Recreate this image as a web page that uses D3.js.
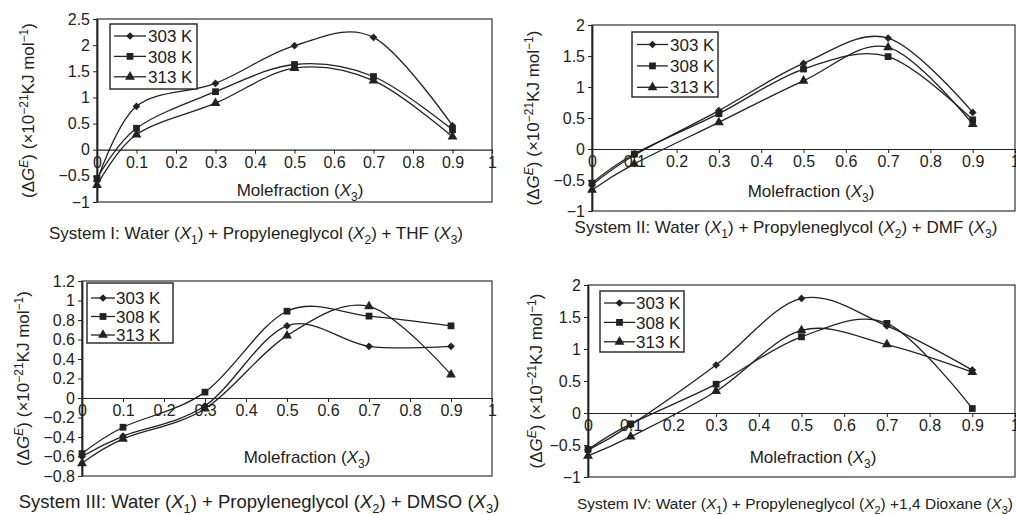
<!DOCTYPE html>
<html>
<head>
<meta charset="utf-8">
<script src="https://cdn.jsdelivr.net/npm/d3@7"></script>
<style>
  body { margin: 0; background: #fff; }
  svg { font-family: "Liberation Sans", Arial, Helvetica, sans-serif; }
</style>
</head>
<body>
<svg id="chart" width="1016" height="515"></svg>
<script>
/* Excess Gibbs energy vs mole fraction of the third component,
   four ternary systems, three temperatures each. */

const molefraction = [0, 0.1, 0.3, 0.5, 0.7, 0.9];
const temperatures = ['303 K', '308 K', '313 K'];
const xTicks = [0, 0.1, 0.2, 0.3, 0.4, 0.5, 0.6, 0.7, 0.8, 0.9, 1];

// System I: THF
const thf303 = [-0.60, 0.83, 1.27, 1.99, 2.15, 0.46];
const thf308 = [-0.55, 0.41, 1.11, 1.63, 1.40, 0.38];
const thf313 = [-0.68, 0.29, 0.89, 1.56, 1.32, 0.25];
const thfTicks = [-1, -0.5, 0, 0.5, 1, 1.5, 2, 2.5];

// System II: DMF
const dmf303 = [-0.58, -0.10, 0.62, 1.38, 1.79, 0.59];
const dmf308 = [-0.55, -0.08, 0.57, 1.29, 1.49, 0.47];
const dmf313 = [-0.66, -0.24, 0.43, 1.10, 1.64, 0.40];
const dmfTicks = [-1, -0.5, 0, 0.5, 1, 1.5, 2];

// System III: DMSO
const dmso303 = [-0.60, -0.39, -0.08, 0.74, 0.53, 0.53];
const dmso308 = [-0.57, -0.30, 0.06, 0.89, 0.84, 0.74];
const dmso313 = [-0.67, -0.42, -0.11, 0.64, 0.94, 0.24];
const dmsoTicks = [-0.8, -0.6, -0.4, -0.2, 0, 0.2, 0.4, 0.6, 0.8, 1, 1.2];

// System IV: 1,4 Dioxane
const diox303 = [-0.58, -0.19, 0.75, 1.79, 1.36, 0.67];
const diox308 = [-0.57, -0.17, 0.45, 1.19, 1.40, 0.07];
const diox313 = [-0.67, -0.37, 0.34, 1.29, 1.07, 0.64];
const dioxTicks = [-1, -0.5, 0, 0.5, 1, 1.5, 2];

const captions = [
    'System I: Water (X_1) + Propyleneglycol (X_2) + THF (X_3)',
    'System II: Water (X_1) + Propyleneglycol (X_2) + DMF (X_3)',
    'System III: Water (X_1) + Propyleneglycol (X_2) + DMSO (X_3)',
    'System IV: Water (X_1) + Propyleneglycol (X_2) +1,4 Dioxane (X_3)'
];

/* Layout of each panel on the page (pixels). */
const panels = [
    {series: [thf303, thf308, thf313], yTicks: thfTicks, caption: captions[0],
     left: 97, right: 492, top: 19, bottom: 202,
     legend: {x: 110, y: 24, w: 87, h: 65, row0: 36, step: 20.4, line0: 114, line1: 146, text: 148},
     xTitle: [300, 196], yTitleX: 28, captionPos: [256, 239], captionSize: 17},
    {series: [dmf303, dmf308, dmf313], yTicks: dmfTicks, caption: captions[1],
     left: 592, right: 1015, top: 25, bottom: 211,
     legend: {x: 632, y: 32, w: 86, h: 65, row0: 44.5, step: 21.4, line0: 637, line1: 668, text: 670},
     xTitle: [811, 197], yTitleX: 533, captionPos: [786, 233], captionSize: 17},
    {series: [dmso303, dmso308, dmso313], yTicks: dmsoTicks, caption: captions[2],
     left: 82, right: 492, top: 281, bottom: 476,
     legend: {x: 87, y: 283, w: 86, h: 60, row0: 298, step: 18.5, line0: 91, line1: 115, text: 116},
     xTitle: [307, 463], yTitleX: 23, captionPos: [259, 508], captionSize: 18.5},
    {series: [diox303, diox308, diox313], yTicks: dioxTicks, caption: captions[3],
     left: 588, right: 1015, top: 285, bottom: 477,
     legend: {x: 600, y: 291, w: 84, h: 61, row0: 303, step: 19.4, line0: 604, line1: 635, text: 636},
     xTitle: [813, 463], yTitleX: 536, captionPos: [795, 509], captionSize: 15.5}
];

const INK = '#222';
const FONT = 17;       // titles and legend
const TICK_FONT = 16;
const SUB_FONT = 12;
const tickFormat = d3.format('~g');

/* diamond = rotated square, then square, then triangle */
const markers = [
    {type: d3.symbolSquare, size: 30, rotate: 45},
    {type: d3.symbolSquare, size: 46, rotate: 0},
    {type: d3.symbolTriangle, size: 42, rotate: 0}
];

function drawMarker(g, i, cx, cy) {
    g.append('path')
        .attr('d', d3.symbol().type(markers[i].type).size(markers[i].size)())
        .attr('transform', `translate(${cx},${cy}) rotate(${markers[i].rotate})`)
        .attr('fill', INK);
}

/* text with X_n written as italic X and subscript n */
function writeSubscripted(text, str, size) {
    let parts = str.split(/X_(\d)/);
    let shift = 0;
    let sub = Math.round(size * 0.7);
    parts.forEach((part, i) => {
        if (i % 2 == 0) {
            if (part === '') return;
            text.append('tspan').attr('dy', shift).text(part);
            shift = 0;
        } else {
            text.append('tspan').attr('font-style', 'italic').attr('dy', shift).text('X');
            text.append('tspan').attr('dy', 5).attr('font-size', sub).text(part);
            shift = -5;
        }
    });
}

function drawPanel(svg, p) {
    let x = d3.scaleLinear().domain([0, 1]).range([p.left, p.right]);
    let y = d3.scaleLinear().domain(d3.extent(p.yTicks)).range([p.bottom, p.top]);
    let g = svg.append('g');

    g.append('rect')
        .attr('x', p.left).attr('y', p.top)
        .attr('width', p.right - p.left).attr('height', p.bottom - p.top)
        .attr('fill', 'none').attr('stroke', '#333').attr('stroke-width', 1.2);

    let yAxis = g.append('g')
        .attr('transform', `translate(${p.left},0)`)
        .call(d3.axisLeft(y).tickValues(p.yTicks).tickSize(4).tickSizeOuter(0).tickFormat(tickFormat));
    yAxis.select('.domain').attr('stroke', INK).attr('stroke-width', 1.8);

    let xAxis = g.append('g')
        .attr('transform', `translate(0,${y(0)})`)
        .call(d3.axisBottom(x).tickValues(xTicks).tickSize(4).tickSizeOuter(0).tickFormat(tickFormat));
    xAxis.select('.domain').attr('stroke', INK).attr('stroke-width', 1.2);

    [yAxis, xAxis].forEach(a => {
        a.attr('font-size', TICK_FONT).attr('font-family', null);
        a.selectAll('.tick line').attr('stroke', INK);
        a.selectAll('.tick text').attr('fill', INK);
    });

    // curves and markers
    let line = d3.line()
        .x((d, i) => x(molefraction[i]))
        .y(d => y(d))
        .curve(d3.curveCardinal.tension(0));
    p.series.forEach((values, s) => {
        g.append('path')
            .attr('d', line(values))
            .attr('fill', 'none')
            .attr('stroke', INK)
            .attr('stroke-width', 1.3);
        values.forEach((v, i) => drawMarker(g, s, x(molefraction[i]), y(v)));
    });

    // legend
    let L = p.legend;
    g.append('rect')
        .attr('x', L.x).attr('y', L.y).attr('width', L.w).attr('height', L.h)
        .attr('fill', '#fff').attr('stroke', INK).attr('stroke-width', 1.4);
    temperatures.forEach((t, s) => {
        let ry = L.row0 + s * L.step;
        g.append('line')
            .attr('x1', L.line0).attr('x2', L.line1).attr('y1', ry).attr('y2', ry)
            .attr('stroke', INK).attr('stroke-width', 1.3);
        drawMarker(g, s, (L.line0 + L.line1) / 2, ry);
        g.append('text')
            .attr('x', L.text).attr('y', ry).attr('dy', '0.36em')
            .attr('font-size', FONT).attr('fill', INK)
            .text(t);
    });

    // x title inside the plot
    let xt = g.append('text')
        .attr('x', p.xTitle[0]).attr('y', p.xTitle[1])
        .attr('text-anchor', 'middle').attr('font-size', FONT).attr('fill', INK);
    writeSubscripted(xt, 'Molefraction (X_3)', FONT);

    // y title
    let yt = g.append('text')
        .attr('transform', `translate(${p.yTitleX + 6},${(p.top + p.bottom) / 2}) rotate(-90)`)
        .attr('text-anchor', 'middle').attr('font-size', FONT).attr('fill', INK);
    yt.append('tspan').text('(\u0394');
    yt.append('tspan').attr('font-style', 'italic').text('G');
    yt.append('tspan').attr('font-style', 'italic').attr('dy', -6).attr('font-size', SUB_FONT).text('E');
    yt.append('tspan').attr('dy', 6).text(') (\u00d710');
    yt.append('tspan').attr('dy', -6).attr('font-size', SUB_FONT).text('\u221221');
    yt.append('tspan').attr('dy', 6).text('KJ mol');
    yt.append('tspan').attr('dy', -6).attr('font-size', SUB_FONT).text('\u22121');
    yt.append('tspan').attr('dy', 6).text(')');

    // caption
    let cap = g.append('text')
        .attr('x', p.captionPos[0]).attr('y', p.captionPos[1])
        .attr('text-anchor', 'middle').attr('font-size', p.captionSize).attr('fill', INK);
    writeSubscripted(cap, p.caption, p.captionSize);
}

const svg = d3.select('#chart');
panels.forEach(p => drawPanel(svg, p));
</script>
</body>
</html>
